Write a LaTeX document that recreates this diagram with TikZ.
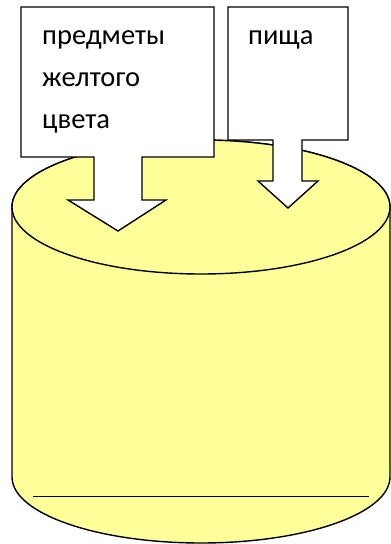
\documentclass[tikz,border=0pt]{standalone}
\usepackage{fontspec}
\setmainfont{Carlito}
\begin{document}
\begin{tikzpicture}[x=1pt,y=1pt,
  outl/.style={draw=black, line width=1.4pt, line join=miter},
  cyl/.style={outl, fill=cylfill},
  callout/.style={outl, fill=white},
  lbl/.style={anchor=base west, inner sep=0pt, font=\fontsize{28.5}{32}\selectfont}]
\definecolor{cylfill}{RGB}{255,255,153}
\useasboundingbox (0,0) rectangle (391,544);
% cylinder body
\draw[cyl] (12,337) -- (12,67) arc[start angle=180, end angle=360, x radius=189, y radius=66]
  -- (390,337) arc[start angle=0, end angle=180, x radius=189, y radius=67] -- cycle;
% top ellipse
\draw[cyl] (201,337) ellipse[x radius=189, y radius=67];
% bottom line
\coordinate (la) at (33,47);
\coordinate (lb) at (369,47);
\draw[line width=1pt] (la) -- (lb);
% callout 1
\draw[callout] (21,537) -- (214,537) -- (214,387) -- (142,387) -- (142,344) -- (166,344)
  -- (118,313) -- (68,344) -- (94,344) -- (94,387) -- (21,387) -- cycle;
% callout 2
\draw[callout] (228,537) -- (348,537) -- (348,404) -- (302,404) -- (302,363) -- (318,363)
  -- (288,336) -- (258,363) -- (273,363) -- (273,404) -- (228,404) -- cycle;
% texts
\node[lbl] (t1a) at (42,499) {предметы};
\node[lbl] (t1b) at (42,457) {желтого};
\node[lbl] (t1c) at (42,415) {цвета};
\node[lbl] (t2) at (248,499) {пища};
\end{tikzpicture}
\end{document}
